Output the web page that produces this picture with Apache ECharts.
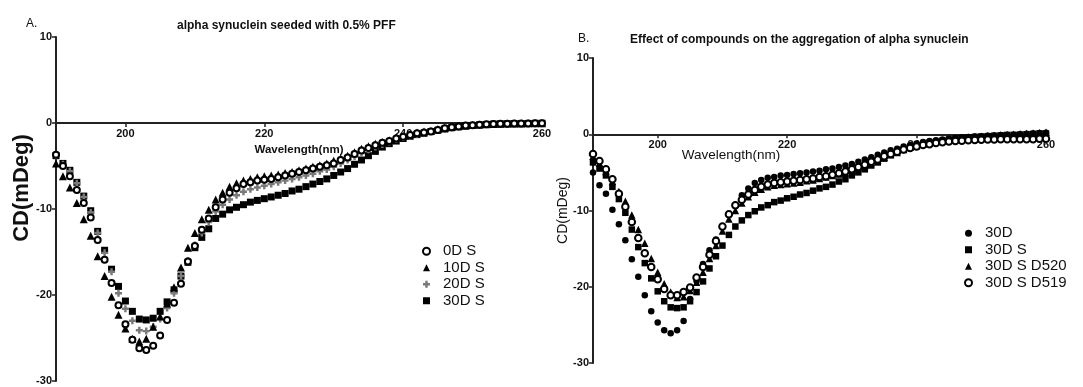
<!DOCTYPE html>
<html><head><meta charset="utf-8">
<script src="https://cdn.jsdelivr.net/npm/echarts@6/dist/echarts.min.js"></script>
<style>html,body{margin:0;padding:0;background:#fff}#c{width:1083px;height:387px}</style>
</head><body><div id="c"></div>
<script>
// Wavelength (nm)
const wavelength = [190,191,192,193,194,195,196,197,198,199,200,201,202,203,204,205,206,207,208,209,210,211,212,213,214,215,216,217,218,219,220,221,222,223,224,225,226,227,228,229,230,231,232,233,234,235,236,237,238,239,240,241,242,243,244,245,246,247,248,249,250,251,252,253,254,255,256,257,258,259,260];
const xTicks = [200, 220, 240, 260];
const yMin = -30, yMax = 10;

// Panel A: alpha synuclein seeded with 0.5% PFF (CD, mDeg)
const a_0DS = [-3.7,-5.0,-6.2,-7.8,-9.3,-11.0,-13.6,-15.9,-18.6,-21.2,
 -23.4,-25.2,-26.2,-26.4,-25.9,-24.7,-22.9,-20.9,-18.7,-16.1,
 -14.3,-12.4,-11.1,-9.8,-8.9,-8.1,-7.6,-7.1,-6.9,-6.7,
 -6.6,-6.5,-6.3,-6.1,-5.9,-5.7,-5.5,-5.3,-5.1,-4.9,
 -4.7,-4.3,-4.0,-3.6,-3.2,-2.9,-2.6,-2.3,-2.1,-1.8,
 -1.6,-1.4,-1.2,-1.1,-1.0,-0.8,-0.6,-0.5,-0.4,-0.3,
 -0.25,-0.2,-0.15,-0.12,-0.1,-0.08,-0.07,-0.06,-0.05,-0.04,
 -0.03];
const a_10DS = [-4.7,-6.2,-7.5,-9.3,-11.2,-13.1,-15.5,-17.8,-20.2,-22.3,
 -23.9,-25.1,-25.4,-25.1,-23.7,-22.5,-21.0,-19.1,-16.8,-14.5,
 -12.8,-11.2,-10.1,-8.9,-8.1,-7.4,-7.0,-6.7,-6.5,-6.3,
 -6.2,-6.1,-6.0,-5.8,-5.7,-5.5,-5.3,-5.1,-4.9,-4.7,
 -4.4,-4.1,-3.8,-3.4,-3.0,-2.7,-2.4,-2.2,-2.0,-1.7,
 -1.5,-1.3,-1.1,-1.0,-0.9,-0.7,-0.55,-0.45,-0.35,-0.28,
 -0.22,-0.18,-0.14,-0.11,-0.09,-0.07,-0.06,-0.05,-0.04,-0.03,
 -0.02];
const a_20DS = [-3.8,-4.8,-5.6,-7.0,-8.6,-10.4,-12.8,-15.1,-17.3,-19.8,
 -21.6,-23.0,-24.1,-24.2,-23.7,-22.8,-21.5,-19.8,-17.8,-16.0,
 -14.2,-12.8,-11.5,-10.3,-9.5,-8.9,-8.4,-8.0,-7.7,-7.5,
 -7.3,-7.1,-6.9,-6.7,-6.5,-6.3,-6.1,-5.9,-5.6,-5.4,
 -5.1,-4.7,-4.3,-3.9,-3.5,-3.1,-2.8,-2.5,-2.2,-1.9,
 -1.7,-1.5,-1.3,-1.15,-1.0,-0.85,-0.7,-0.55,-0.42,-0.32,
 -0.26,-0.2,-0.16,-0.13,-0.1,-0.08,-0.07,-0.06,-0.05,-0.04,
 -0.03];
const a_30DS = [-3.8,-4.7,-5.5,-6.9,-8.5,-10.2,-12.6,-14.8,-17.0,-19.0,
 -20.7,-21.9,-22.8,-22.9,-22.7,-21.9,-20.8,-19.4,-17.8,-16.2,
 -14.5,-13.3,-12.3,-11.1,-10.6,-10.1,-9.8,-9.5,-9.2,-9.0,
 -8.8,-8.6,-8.4,-8.2,-7.9,-7.7,-7.4,-7.1,-6.8,-6.5,
 -6.1,-5.7,-5.3,-4.8,-4.3,-3.8,-3.3,-2.8,-2.4,-2.1,
 -1.8,-1.55,-1.35,-1.2,-1.0,-0.85,-0.7,-0.55,-0.45,-0.35,
 -0.28,-0.22,-0.17,-0.13,-0.1,-0.08,-0.07,-0.06,-0.05,-0.04,
 -0.03];

// Panel B: Effect of compounds on the aggregation of alpha synuclein
const b_30D = [-5.0,-6.7,-7.8,-9.9,-11.8,-13.9,-16.4,-18.7,-21.1,-23.2,
 -24.7,-25.7,-26.1,-25.7,-24.5,-21.6,-19.2,-17.0,-15.2,-13.8,
 -12.2,-10.6,-9.4,-8.0,-7.1,-6.4,-6.0,-5.7,-5.6,-5.4,
 -5.35,-5.2,-5.1,-5.0,-4.9,-4.8,-4.6,-4.5,-4.3,-4.1,
 -3.9,-3.6,-3.3,-3.0,-2.7,-2.4,-2.1,-1.9,-1.6,-1.4,
 -1.2,-1.0,-0.9,-0.8,-0.7,-0.6,-0.5,-0.4,-0.35,-0.3,
 -0.25,-0.2,-0.15,-0.1,-0.08,-0.05,0.0,0.05,0.1,0.15,
 0.2];
const b_30DS = [-3.7,-4.5,-5.4,-6.9,-8.5,-10.3,-12.5,-14.8,-16.9,-18.9,
 -20.6,-21.9,-22.7,-22.8,-22.7,-21.9,-20.7,-19.3,-17.6,-16.0,
 -14.6,-13.2,-12.1,-11.3,-10.6,-10.1,-9.6,-9.3,-8.9,-8.7,
 -8.4,-8.2,-7.9,-7.7,-7.4,-7.1,-6.9,-6.6,-6.2,-5.9,
 -5.4,-5.0,-4.6,-4.1,-3.7,-3.2,-2.7,-2.3,-2.0,-1.7,
 -1.5,-1.3,-1.1,-1.0,-0.85,-0.7,-0.6,-0.5,-0.4,-0.35,
 -0.3,-0.25,-0.2,-0.15,-0.1,-0.08,-0.05,0.0,0.05,0.1,
 0.1];
const b_30DS_D520 = [-2.9,-3.8,-4.9,-6.2,-7.5,-8.8,-10.6,-12.5,-14.3,-16.3,
 -18.1,-19.6,-20.7,-21.4,-21.3,-20.5,-19.4,-18.1,-16.3,-14.6,
 -12.7,-11.1,-10.0,-9.0,-8.2,-7.6,-7.2,-6.9,-6.7,-6.6,
 -6.5,-6.4,-6.3,-6.1,-6.0,-5.8,-5.6,-5.4,-5.2,-5.0,
 -4.7,-4.4,-4.1,-3.7,-3.4,-3.0,-2.7,-2.4,-2.0,-1.7,
 -1.5,-1.3,-1.1,-0.95,-0.8,-0.7,-0.6,-0.5,-0.4,-0.3,
 -0.25,-0.2,-0.15,-0.1,-0.05,0.0,0.05,0.1,0.15,0.2,
 0.25];
const b_30DS_D519 = [-2.6,-3.5,-4.6,-5.9,-7.8,-9.5,-11.5,-13.6,-15.6,-17.4,
 -19.0,-20.3,-21.1,-21.1,-20.7,-20.1,-18.8,-17.4,-15.8,-14.0,
 -12.1,-10.5,-9.3,-8.6,-7.9,-7.3,-6.9,-6.6,-6.4,-6.3,
 -6.2,-6.1,-6.0,-5.9,-5.8,-5.6,-5.5,-5.3,-5.1,-4.9,
 -4.6,-4.3,-4.0,-3.6,-3.3,-2.9,-2.6,-2.3,-2.0,-1.8,
 -1.6,-1.4,-1.3,-1.15,-1.05,-0.95,-0.9,-0.85,-0.8,-0.75,
 -0.72,-0.7,-0.68,-0.66,-0.65,-0.65,-0.65,-0.65,-0.65,-0.6,
 -0.6];

const FONT = '"Liberation Sans", Arial, Helvetica, sans-serif';
const pairs = ys => wavelength.map((w, i) => [w, ys[i]]);
const grids = [
  { left: 56, top: 37, width: 486, height: 344 },
  { left: 593, top: 58, width: 453, height: 305 }
];
// x axis drawn at CD = 0: shift it up from the grid bottom by the zero position
const zeroOffset = g => -g.height * (0 - yMin) / (yMax - yMin);
const PLUS = 'path://M2.6,0H5.4V2.6H8V5.4H5.4V8H2.6V5.4H0V2.6H2.6Z';

function xAxisCfg(gi, nameStyle, nameGap, pad) {
  return {
    gridIndex: gi, type: 'value', min: 190, max: 260,
    position: 'bottom', offset: zeroOffset(grids[gi]),
    axisLine: { onZero: false, lineStyle: { color: '#222', width: 2 } },
    axisTick: { show: true, customValues: xTicks, length: 4, lineStyle: { color: '#222', width: 1.5 } },
    axisLabel: { customValues: xTicks, fontFamily: FONT, fontSize: 11, fontWeight: 'bold', color: '#111', margin: 5 },
    splitLine: { show: false },
    name: 'Wavelength(nm)', nameLocation: 'middle', nameGap: nameGap, nameMoveOverlap: false,
    nameTextStyle: Object.assign({ fontFamily: FONT, color: '#111', padding: pad }, nameStyle)
  };
}
function yAxisCfg(gi, nameStyle, nameGap, pad) {
  return {
    gridIndex: gi, type: 'value', min: yMin, max: yMax, interval: 10,
    axisLine: { show: true, onZero: false, lineStyle: { color: '#222', width: 2 } },
    axisTick: { show: true, length: 4, lineStyle: { color: '#222', width: 1.5 } },
    axisLabel: { fontFamily: FONT, fontSize: 11, fontWeight: 'bold', color: '#111', margin: 4 },
    splitLine: { show: false },
    name: 'CD(mDeg)', nameLocation: 'middle', nameGap: nameGap, nameRotate: 90, nameMoveOverlap: false,
    nameTextStyle: Object.assign({ fontFamily: FONT, color: '#111', padding: pad }, nameStyle)
  };
}
function sc(name, data, xi, symbol, size, color, extra) {
  return Object.assign({
    type: 'scatter', name: name, xAxisIndex: xi, yAxisIndex: xi,
    data: pairs(data), symbol: symbol, symbolSize: size,
    itemStyle: { color: color, opacity: 1 }, silent: true
  }, extra || {});
}
const emptyStyle = { itemStyle: { color: '#000', borderColor: '#000', borderWidth: 1.6, opacity: 1 } };
const legendText = { fontFamily: FONT, fontSize: 15, color: '#111', lineHeight: 16.5, padding: [0, 0, 0, 8] };

const chart = echarts.init(document.getElementById('c'), null, { renderer: 'canvas' });
chart.setOption({
  animation: false,
  backgroundColor: '#fff',
  textStyle: { fontFamily: FONT },
  title: [
    { text: 'A.', left: 21, top: 13, textStyle: { fontFamily: FONT, fontSize: 12, fontWeight: 'normal', color: '#111' } },
    { text: 'alpha synuclein seeded with 0.5% PFF', left: 172, top: 15, textStyle: { fontFamily: FONT, fontSize: 12, fontWeight: 'bold', color: '#111' } },
    { text: 'B.', left: 573, top: 28, textStyle: { fontFamily: FONT, fontSize: 12, fontWeight: 'normal', color: '#111' } },
    { text: 'Effect of compounds on the aggregation of alpha synuclein', left: 625, top: 29, textStyle: { fontFamily: FONT, fontSize: 12, fontWeight: 'bold', color: '#111' } }
  ],
  grid: grids.map(g => Object.assign({ outerBoundsMode: 'none', containLabel: false }, g)),
  xAxis: [
    xAxisCfg(0, { fontSize: 11.5, fontWeight: 'bold' }, 21, [0, 0, 0, 0]),
    xAxisCfg(1, { fontSize: 13.5, fontWeight: 'normal' }, 14, [0, 177, 0, 0])
  ],
  yAxis: [
    yAxisCfg(0, { fontSize: 22, fontWeight: 'bold' }, 23, [0, 0, 0, 42]),
    yAxisCfg(1, { fontSize: 14, fontWeight: 'normal' }, 23, [0, 0, 0, 0])
  ],
  legend: [
    { data: ['0D S', '10D S', '20D S', '30D S'], orient: 'vertical', left: 417, top: 238,
      itemWidth: 7, itemHeight: 7, itemGap: 0, selectedMode: false, textStyle: legendText },
    { data: ['30D', '30D S', '30D S D520', '30D S D519'], orient: 'vertical', left: 959, top: 220,
      itemWidth: 7, itemHeight: 7, itemGap: 0, selectedMode: false, textStyle: legendText }
  ],
  series: [
    sc('30D S', a_30DS, 0, 'rect', 7, '#000'),
    sc('20D S', a_20DS, 0, PLUS, 7, '#7a7a7a'),
    sc('10D S', a_10DS, 0, 'triangle', 8, '#000'),
    sc('0D S', a_0DS, 0, 'emptyCircle', 6, '#000', emptyStyle),
    sc('30D', b_30D, 1, 'circle', 6.5, '#000'),
    sc('30D S', b_30DS, 1, 'rect', 6.5, '#000'),
    sc('30D S D520', b_30DS_D520, 1, 'triangle', 7.5, '#000'),
    sc('30D S D519', b_30DS_D519, 1, 'emptyCircle', 6.5, '#000', emptyStyle)
  ]
});
</script></body></html>
